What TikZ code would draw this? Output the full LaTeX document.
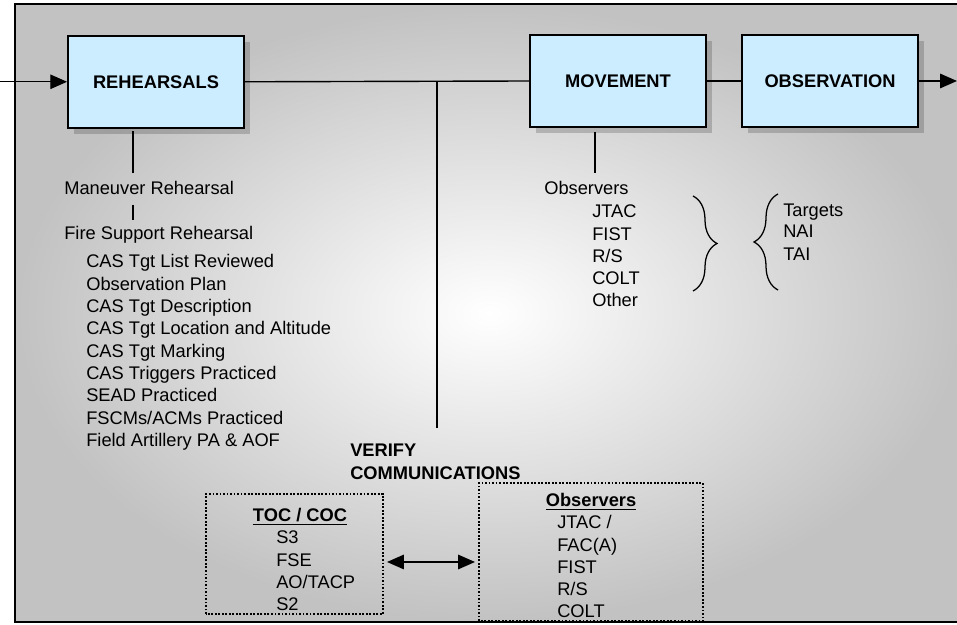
\documentclass[tikz,border=0pt]{standalone}
\usepackage{fontspec}
\setmainfont{Liberation Sans}
\usetikzlibrary{arrows.meta,shadows,decorations.pathreplacing}

\definecolor{boxblue}{RGB}{204,236,255}

\begin{document}
\begin{tikzpicture}[
    phasebox/.style={draw, line width=1.3pt, fill=boxblue, minimum width=4.4cm,
      minimum height=2.3cm, font=\fontsize{13}{15.8}\selectfont\bfseries,
      drop shadow={shadow xshift=0.15cm, shadow yshift=-0.15cm, fill=black, opacity=0.18}},
    txt/.style={inner sep=0pt, anchor=base west, font=\fontsize{13}{15.8}\selectfont},
    btxt/.style={txt, font=\fontsize{13}{15.8}\selectfont\bfseries},
    commbox/.style={draw, line width=1.3pt, dash pattern=on 1.3pt off 1.2pt},
    flow/.style={line width=1pt},
    tip/.style={-{Triangle[length=0.42cm,width=0.36cm]}},
    twotip/.style={{Triangle[length=0.42cm,width=0.36cm]}-{Triangle[length=0.42cm,width=0.36cm]}}
  ]

\useasboundingbox (0,0) rectangle (23.925,15.625);

% --- Background frame ---
\shade[inner color=white, outer color=black!24] (0.375,0.075) rectangle (24.1,15.525);
\draw[line width=1.5pt] (24.1,15.525) -- (0.375,15.525) -- (0.375,0.075) -- (24.1,0.075);

% --- Phase boxes ---
\node[phasebox] (rehearsals) at (3.9,13.58) {REHEARSALS};
\node[phasebox] (movement) at (15.45,13.6) {MOVEMENT};
\node[phasebox] (observation) at (20.75,13.6) {OBSERVATION};

\coordinate (entry) at (0,13.58);
\coordinate (exit) at (23.925,13.6);
\coordinate (verifytop) at (10.925,4.925);

\draw[flow, tip] (entry) -- (rehearsals.west);
\draw[flow] (rehearsals.east) -- (movement.west);
\draw[flow] (movement.east) -- (observation.west);
\draw[flow, tip] (observation.east) -- (exit);
\draw[flow] (verifytop |- rehearsals.east) -- (verifytop);

% --- Rehearsal column ---
\node[txt] (maneuver) at (1.6,10.75) {Maneuver Rehearsal};
\node[txt] (firesupport) at (1.6,9.625) {Fire Support Rehearsal};
\draw[flow] (3.325,12.35) -- (3.325,11.3);
\draw[flow] (3.325,10.5) -- (3.325,10.125);

\foreach \item [count=\i] in {CAS Tgt List Reviewed, Observation Plan, CAS Tgt Description,
    CAS Tgt Location and Altitude, CAS Tgt Marking, CAS Triggers Practiced,
    SEAD Practiced, FSCMs/ACMs Practiced, Field Artillery PA \& AOF}
  \node[txt] (check\i) at (2.15,{8.925-(\i-1)*0.5575}) {\item};

% --- Movement column ---
\node[txt] (observers) at (13.6,10.75) {Observers};
\draw[flow] (14.875,12.325) -- (14.875,11.3);
\foreach \item [count=\i] in {JTAC, FIST, R/S, COLT, Other}
  \node[txt] (obs\i) at (14.8,{10.175-(\i-1)*0.556}) {\item};

% braces
\draw[line width=0.9pt, decorate, decoration={brace, amplitude=0.6cm}]
  (17.325,10.725) -- (17.325,8.35);
\draw[line width=0.9pt, decorate, decoration={brace, amplitude=0.6cm}]
  (19.45,8.375) -- (19.45,10.775);

\node[txt] (targets) at (19.575,10.2) {Targets};
\node[txt] (nai) at (19.575,9.675) {NAI};
\node[txt] (tai) at (19.575,9.1) {TAI};

% --- Verify communications ---
\node[btxt] (verify) at (8.75,4.2) {VERIFY};
\node[btxt] (comms) at (8.75,3.625) {COMMUNICATIONS};

\draw[commbox] (5.15,0.275) rectangle (9.575,3.275);
\coordinate (tocbox) at (9.575,1.575);
\node[btxt, anchor=base] (toc) at (7.5,2.575) {\underline{TOC / COC}};
\foreach \item [count=\i] in {S3, FSE, AO/TACP, S2}
  \node[txt] (toc\i) at (6.9,{2.025-(\i-1)*0.558}) {\item};

\draw[commbox] (11.975,0.1) rectangle (17.575,3.55);
\coordinate (obsbox) at (11.975,1.575);
\node[btxt, anchor=base] (obshead) at (14.775,2.95) {\underline{Observers}};
\foreach \item [count=\i] in {JTAC /, FAC(A), FIST, R/S, COLT}
  \node[txt] (com\i) at (13.925,{2.4-(\i-1)*0.556}) {\item};

\draw[flow, twotip] ([xshift=0.1cm]tocbox) -- ([xshift=-0.1cm]obsbox);

\end{tikzpicture}
\end{document}
